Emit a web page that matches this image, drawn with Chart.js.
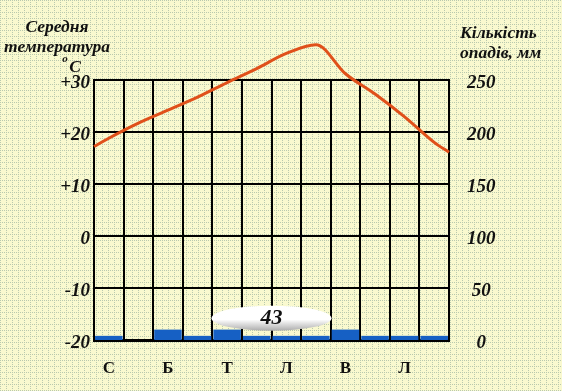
<!DOCTYPE html>
<html>
<head>
<meta charset="utf-8">
<script src="https://cdn.jsdelivr.net/npm/chart.js@4"></script>
<style>
    html, body { margin: 0; padding: 0; }
    body { width: 562px; height: 391px; overflow: hidden; background: #f8f8cc; }
    #chart { display: block; }
</style>
</head>
<body>
<canvas id="chart" width="562" height="391"></canvas>
<script>
// Кліматична діаграма: температура (лінія) та опади (стовпчики)

const MONTHS       = ['С', 'Л', 'Б', 'К', 'Т', 'Ч', 'Л', 'С', 'В', 'Ж', 'Л', 'Г'];
const TEMPS        = [18.8, 21.7, 24.2, 26.7, 29.5, 32.2, 35.1, 36.8, 31.2, 27.3, 22.9, 18.0];
const TEMP_EDGES   = [17.2, 16.1];            // значення на лівій і правій межі графіка
const PRECIP       = [4, 0, 10, 4, 10, 4, 4, 4, 10, 4, 4, 4];
const TEMP_TICKS   = [-20, -10, 0, 10, 20, 30];
const PRECIP_TICKS = [0, 50, 100, 150, 200, 250];
const ANNUAL_TOTAL = '43';

const SERIF    = '"Liberation Serif", "DejaVu Serif", serif';
const TICK_FONT = { family: SERIF, size: 19, weight: 'bold', style: 'italic' };

// фон у дрібну крапкову сітку
(function paintBackground() {
    const tile = document.createElement('canvas');
    tile.width = 6; tile.height = 6;
    const t = tile.getContext('2d');
    t.fillStyle = '#f9f9cf';
    t.fillRect(0, 0, 6, 6);
    t.fillStyle = '#b9c9ae';
    [[0, 0], [2, 0], [4, 0], [0, 2], [0, 4]].forEach(([x, y]) => t.fillRect(x, y, 1, 1));
    document.body.style.backgroundImage = `url(${tile.toDataURL()})`;
})();

const tempPoints = [
    { x: 0, y: TEMP_EDGES[0] },
    ...TEMPS.map((v, i) => ({ x: i + 0.5, y: v })),
    { x: MONTHS.length, y: TEMP_EDGES[1] }
];

const labelsPlugin = {
    id: 'labels',
    afterDraw(chart) {
        const { ctx, scales } = chart;
        ctx.save();
        ctx.fillStyle = '#111';
        ctx.textBaseline = 'middle';

        // підписи осей
        ctx.textAlign = 'center';
        ctx.font = `italic bold 17.5px ${SERIF}`;
        ctx.fillText('Середня', 57, 27);
        ctx.fillText('температура', 57, 47);
        ctx.fillText('C', 75, 67);
        ctx.font = `italic bold 11px ${SERIF}`;
        ctx.fillText('o', 65, 59);

        ctx.textAlign = 'left';
        ctx.font = `italic bold 17.5px ${SERIF}`;
        ctx.fillText('Кількість', 460, 33);
        ctx.fillText('опадів, мм', 460, 53);

        // овал із річною сумою
        const cx = scales.xt.getPixelForValue(6);
        const cy = scales.y.getPixelForValue(-15.8);
        const grad = ctx.createLinearGradient(0, cy - 13, 0, cy + 13);
        grad.addColorStop(0, '#ffffff');
        grad.addColorStop(0.55, '#ffffff');
        grad.addColorStop(1, '#a9a9a9');
        ctx.beginPath();
        ctx.ellipse(cx, cy, 60, 12.5, 0, 0, Math.PI * 2);
        ctx.fillStyle = grad;
        ctx.fill();

        ctx.fillStyle = '#111';
        ctx.textAlign = 'center';
        ctx.font = `italic bold 22px ${SERIF}`;
        ctx.fillText(ANNUAL_TOTAL, cx, cy);
        ctx.restore();
    }
};

new Chart(document.getElementById('chart').getContext('2d'), {
    type: 'bar',
    data: {
        labels: MONTHS,
        datasets: [
            {
                type: 'line',
                data: tempPoints,
                xAxisID: 'xt', yAxisID: 'y',
                borderColor: '#e0501a', borderWidth: 3,
                pointRadius: 0, cubicInterpolationMode: 'monotone',
                clip: false, order: 0
            },
            {
                type: 'bar',
                data: PRECIP,
                xAxisID: 'x', yAxisID: 'y1',
                backgroundColor: '#1660c4',
                grouped: false,
                barPercentage: 1, categoryPercentage: 0.93,
                order: 1
            }
        ]
    },
    options: {
        responsive: false, animation: false,
        layout: { padding: { top: 80, left: 0, right: 0, bottom: 0 } },
        plugins: { legend: { display: false }, tooltip: { enabled: false } },
        scales: {
            x: {
                type: 'category', offset: true,
                grid: { offset: true, color: '#000', lineWidth: 2, drawTicks: false },
                border: { color: '#000', width: 3 },
                ticks: {
                    color: '#111', padding: 18, maxRotation: 0, autoSkip: false,
                    font: { family: SERIF, size: 17, weight: 'bold' },
                    callback: (v, i) => (i % 2 === 0 ? MONTHS[i] : '')
                },
                afterFit: s => { s.height = 51; }
            },
            xt: { type: 'linear', display: false, offset: false, min: 0, max: MONTHS.length },
            y: {
                position: 'left', min: TEMP_TICKS[0], max: TEMP_TICKS[TEMP_TICKS.length - 1],
                afterBuildTicks: s => { s.ticks = TEMP_TICKS.map(v => ({ value: v })); },
                grid: { color: '#000', lineWidth: 2, drawTicks: false },
                border: { color: '#000', width: 2 },
                ticks: {
                    color: '#111', padding: 4, labelOffset: 3, font: TICK_FONT,
                    callback: v => (v > 0 ? '+' + v : String(v))
                },
                afterFit: s => { s.width = 94; }
            },
            y1: {
                position: 'right', min: PRECIP_TICKS[0], max: PRECIP_TICKS[PRECIP_TICKS.length - 1],
                afterBuildTicks: s => { s.ticks = PRECIP_TICKS.map(v => ({ value: v })); },
                grid: { display: false, drawTicks: false },
                border: { color: '#000', width: 2 },
                ticks: { color: '#111', padding: 18, labelOffset: 3, crossAlign: 'center', font: TICK_FONT },
                afterFit: s => { s.width = 113; }
            }
        }
    },
    plugins: [labelsPlugin]
});
</script>
</body>
</html>
